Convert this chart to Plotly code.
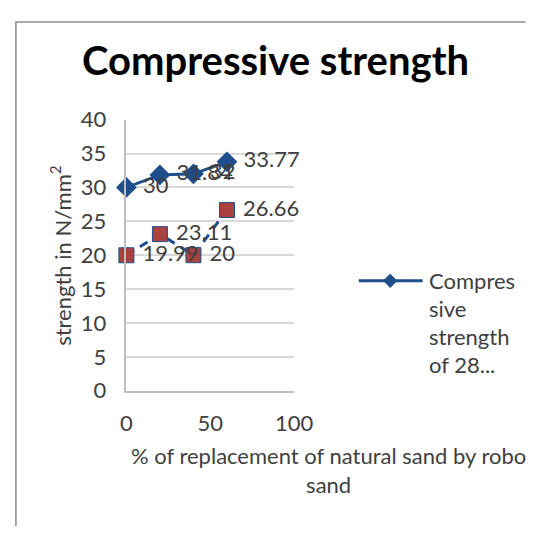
import plotly.graph_objects as go

# ---- data ----
replacement_pct = [0, 20, 40, 60]
strength_28 = [30, 31.84, 32, 33.77]
strength_2 = [19.99, 23.11, 20, 26.66]
label_28 = ["30", "31.84", "32", "33.77"]
label_2 = ["19.99", "23.11", "20", "26.66"]
x_ticks = [0, 50, 100]
y_ticks = [0, 5, 10, 15, 20, 25, 30, 35, 40]

# page body has an 8px default margin; figure sized to fit the window
OFF = 8
W, H = 526, 519
FONT = "Lato, 'Open Sans', sans-serif"
BLUE = "#1F4E8C"
RED = "#A8423F"
TXT = "#404040"
FS = 22


def px(x):
    return (x - OFF) / W


def py(y):
    return 1 - (y - OFF) / H


fig = go.Figure()

fig.add_trace(go.Scatter(
    x=replacement_pct, y=strength_2, mode="lines+markers+text",
    line=dict(color=BLUE, width=3, dash="9px,7px"),
    marker=dict(symbol="square", size=15, color=RED, line=dict(color=BLUE, width=1)),
    text=["\u00a0" + t for t in label_2], textposition="middle right",
    textfont=dict(family=FONT, size=FS, color=TXT),
    showlegend=False, cliponaxis=False,
))
fig.add_trace(go.Scatter(
    x=replacement_pct, y=strength_28, mode="lines+markers+text",
    line=dict(color=BLUE, width=3),
    marker=dict(symbol="diamond", size=16, color=BLUE),
    text=["\u00a0" + t for t in label_28], textposition="middle right",
    textfont=dict(family=FONT, size=FS, color=TXT),
    name="Compressive strength of 28...",
    showlegend=False, cliponaxis=False,
))

x0, x1 = 126, 302
y0, y1 = 111, 397

fig.update_layout(
    width=W, height=H,
    margin=dict(l=0, r=0, t=0, b=0),
    paper_bgcolor="white", plot_bgcolor="white",
    font=dict(family=FONT, size=FS, color=TXT),
    xaxis=dict(
        domain=[px(x0), px(x1)], range=[0, 100], tickvals=x_ticks,
        showgrid=False, zeroline=False, showline=True, linecolor="#BFBFBF", linewidth=1.5,
        ticks="", ticklabelstandoff=12, tickfont=dict(family=FONT, size=FS, color=TXT),
    ),
    yaxis=dict(
        domain=[py(y1), py(y0)], range=[0, 40], tickvals=y_ticks,
        showgrid=True, gridcolor="#D9D9D9", gridwidth=1.5, zeroline=False,
        showline=True, linecolor="#BFBFBF", linewidth=1.5,
        ticks="", ticklabelstandoff=14, tickfont=dict(family=FONT, size=FS, color=TXT),
    ),
)

# chart border (cropped chart area)
fig.add_shape(type="path", xref="paper", yref="paper",
              path=f"M {px(10)},{py(540)} L {px(10)},{py(8)} L {px(545)},{py(8)}",
              line=dict(color="#8C8C8C", width=1.5))

# title
fig.add_annotation(text="<b>Compressive strength</b>", xref="paper", yref="paper",
                   x=px(283), y=py(48), xanchor="center", yanchor="middle", showarrow=False,
                   font=dict(family=FONT, size=40, color="black"))

# y axis title
fig.add_annotation(text="strength in N/mm<sup>2</sup>", xref="paper", yref="paper",
                   x=px(57), y=py(254), xanchor="center", yanchor="middle", showarrow=False,
                   textangle=-90, font=dict(family=FONT, size=FS, color=TXT))

# x axis title
fig.add_annotation(text="% of replacement of natural sand by robo<br>sand", xref="paper", yref="paper",
                   x=px(338), y=py(481), xanchor="center", yanchor="middle", showarrow=False,
                   align="center", font=dict(family=FONT, size=FS, color=TXT))

# legend (manual)
fig.add_shape(type="line", xref="paper", yref="paper",
              x0=px(370), x1=px(437), y0=py(281), y1=py(281),
              line=dict(color=BLUE, width=3))
d = 7
fig.add_shape(type="path", xref="paper", yref="paper",
              path=f"M {px(403-d)},{py(281)} L {px(403)},{py(281-d)} L {px(403+d)},{py(281)} L {px(403)},{py(281+d)} Z",
              fillcolor=BLUE, line=dict(color=BLUE, width=1))
for i, line_txt in enumerate(["Compres", "sive", "strength", "of 28..."]):
    fig.add_annotation(text=line_txt, xref="paper", yref="paper",
                       x=px(442), y=py(281 + 29.5 * i), xanchor="left", yanchor="middle",
                       showarrow=False, font=dict(family=FONT, size=FS, color=TXT))

fig.write_html("out.html")
